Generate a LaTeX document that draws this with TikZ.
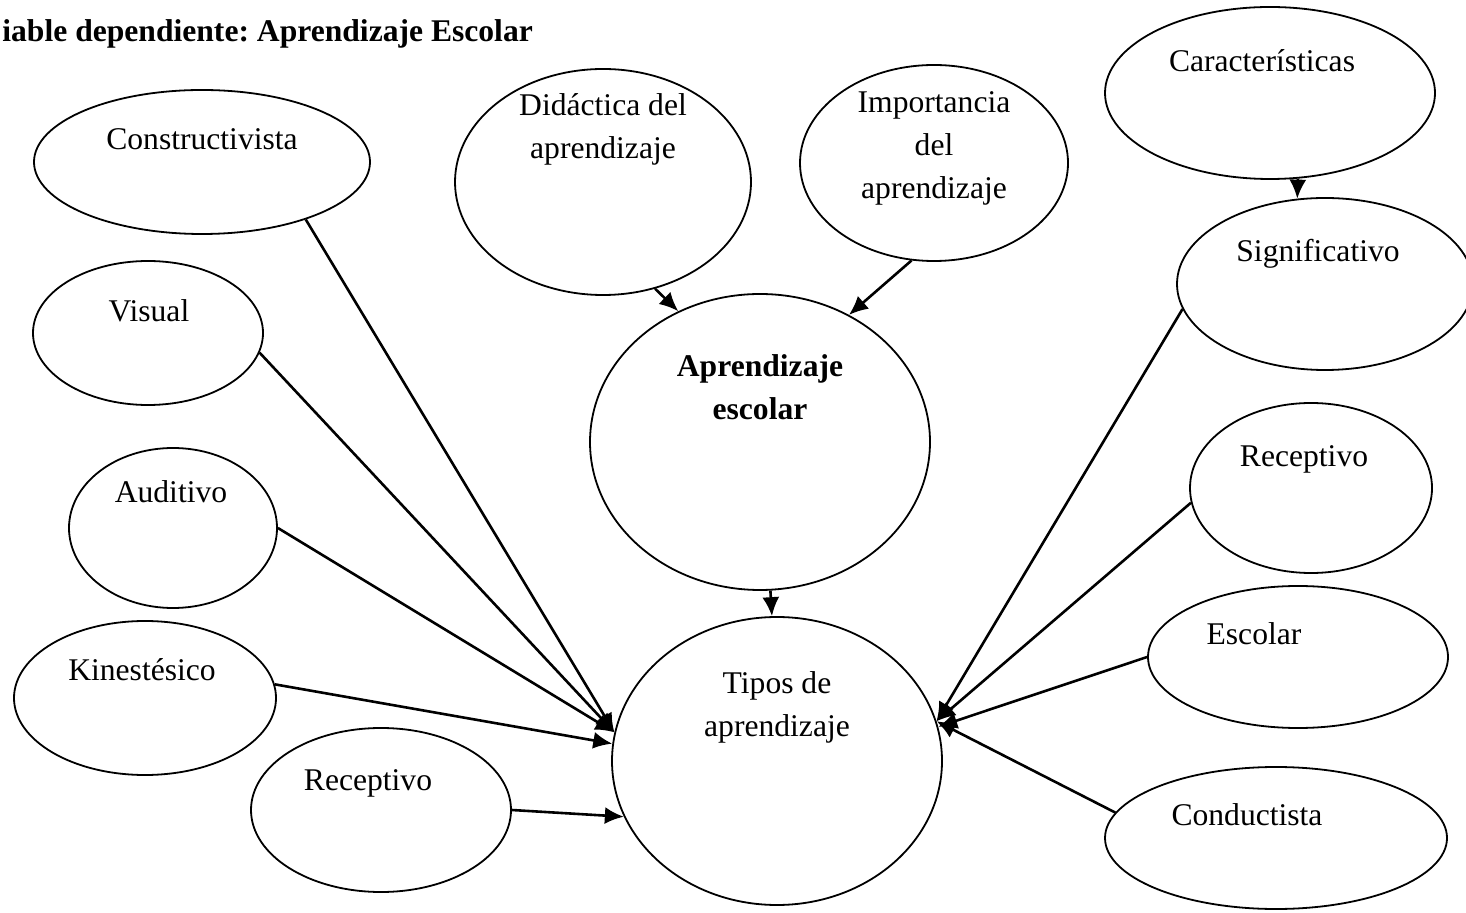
\documentclass[tikz,border=0pt]{standalone}
\usepackage{fontspec}
\setmainfont{Liberation Serif}
\usetikzlibrary{shapes.geometric,arrows.meta}
\newcommand{\mapfont}{\fontsize{15.8}{21.5}\selectfont}
\frenchspacing

\begin{document}
\begin{tikzpicture}[
x=0.5pt, y=-0.5pt,
bubble/.style={
  draw,
  ellipse,
  line width=0.9pt,
  inner sep=0pt
  },
word/.style={
  font=\mapfont,
  anchor=base,
  inner sep=0pt
  },
link/.style={
  ->,
  line width=1.3pt
  },
>={Latex[length=9.5pt,width=8.5pt]}
]
\useasboundingbox (0,0) rectangle (1466,913);

% title
\node[word, anchor=base west, font=\mapfont\bfseries] (title) at (2,42) {iable dependiente: Aprendizaje Escolar};

% left column
\node[bubble, minimum width=168pt, minimum height=72pt] (cons) at (202,162) {};
\node[word] (cons-l) at (202,150) {Constructivista};
\node[bubble, minimum width=115pt, minimum height=72pt] (visual) at (148,333) {};
\node[word] (visual-l) at (149,322) {Visual};
\node[bubble, minimum width=104pt, minimum height=80pt] (audit) at (173,528) {};
\node[word] (audit-l) at (171,503) {Auditivo};
\node[bubble, minimum width=131pt, minimum height=77pt] (kine) at (145,698) {};
\node[word] (kine-l) at (142,681) {Kinestésico};
\node[bubble, minimum width=130pt, minimum height=82pt] (recl) at (381,810) {};
\node[word] (recl-l) at (368,790) {Receptivo};

% centre
\node[bubble, minimum width=148pt, minimum height=113pt] (didac) at (603,182) {};
\node[word, anchor=center, align=center] (didac-l) at (603,129) {Didáctica del\\aprendizaje};
\node[bubble, minimum width=134pt, minimum height=98pt] (impor) at (934,163) {};
\node[word, anchor=center, align=center] (impor-l) at (934,148) {Importancia\\del\\aprendizaje};
\node[bubble, minimum width=170pt, minimum height=148pt] (apren) at (760,442) {};
\node[word, anchor=center, align=center, font=\mapfont\bfseries] (apren-l) at (760,387) {Aprendizaje\\escolar};
\node[bubble, minimum width=165pt, minimum height=144pt] (tipos) at (777,761) {};
\node[word, anchor=center, align=center] (tipos-l) at (777,707) {Tipos de\\aprendizaje};

% right column
\node[bubble, minimum width=165pt, minimum height=86pt] (carac) at (1270,93) {};
\node[word] (carac-l) at (1262,72) {Características};
\node[bubble, minimum width=148pt, minimum height=86pt] (signif) at (1325,284) {};
\node[word] (signif-l) at (1318,262) {Significativo};
\node[bubble, minimum width=121pt, minimum height=85pt] (recr) at (1311,488) {};
\node[word] (recr-l) at (1304,467) {Receptivo};
\node[bubble, minimum width=150pt, minimum height=71pt] (escol) at (1298,657) {};
\node[word] (escol-l) at (1254,645) {Escolar};
\node[bubble, minimum width=171pt, minimum height=71pt] (cond) at (1276,838) {};
\node[word] (cond-l) at (1247,825) {Conductista};

% arrows
\draw[link] (didac.-64) -- (apren.122);
\draw[link] (impor.257) -- (apren.55);
\draw[link] (apren.-86) -- (tipos.92);
\draw[link] (carac.-72) -- (signif.108);

\draw[link] (cons.-29) -- (tipos.170);
\draw[link] (visual.-10) -- (tipos.170);
\draw[link] (audit.east) -- (tipos.170);
\draw[link] (kine.6) -- (tipos.174);
\draw[link] (recl.east) -- (tipos.200);

\draw[link] (signif.190) -- (tipos.14);
\draw[link] (recr.187) -- (tipos.14);
\draw[link] (escol.west) -- (tipos.12);
\draw[link] (cond.171) -- (tipos.14);
\end{tikzpicture}
\end{document}
